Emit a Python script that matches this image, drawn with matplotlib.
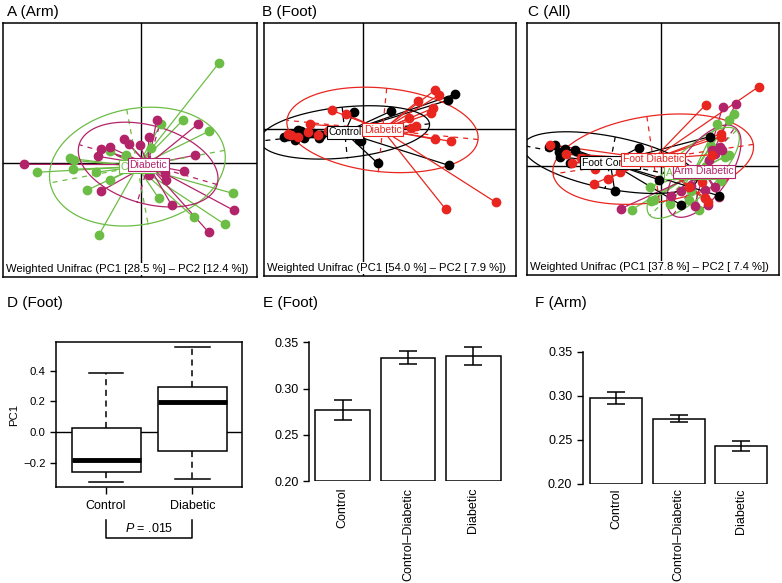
import numpy as np
import matplotlib
matplotlib.use("Agg")
import matplotlib.pyplot as plt

plt.rcParams['font.family'] = ['Liberation Sans', 'DejaVu Sans']
plt.rcParams['mathtext.fontset'] = 'custom'
plt.rcParams['mathtext.rm'] = 'Liberation Sans'
plt.rcParams['mathtext.it'] = 'Liberation Sans:italic'

GREEN = '#6cbd45'
MAGENTA = '#b2236a'
RED = '#e8261f'
BLACK = '#000000'

# ---- PCoA scores (PC1, PC2) ----
# A (Arm)
a_ctrl_x = [0.78, 0.42, 0.68, 0.20, -0.71, -0.67, -1.04, -0.68, -0.45, -0.31, -0.54, -0.42, 0.18, 0.92, 0.53, 0.84, -0.31, 0.10, -0.15]
a_ctrl_y = [1.00, 0.43, 0.32, 0.39, 0.05, 0.03, -0.09, -0.06, -0.09, -0.17, -0.27, -0.72, -0.35, -0.30, -0.54, -0.61, 0.12, 0.15, 0.08]
a_diab_x = [0.16, 0.57, -0.17, -0.12, -0.01, 0.08, -0.40, -0.31, -0.43, -1.17, 0.54, 0.43, 0.24, 0.25, 0.08, -0.40, 0.31, 0.93, 0.68, 0.23]
a_diab_y = [0.43, 0.39, 0.24, 0.19, 0.18, 0.26, 0.14, 0.16, 0.07, -0.01, 0.08, -0.08, -0.10, -0.17, -0.12, -0.28, -0.42, -0.47, -0.69, -0.06]

# B (Foot)
b_ctrl_x = [0.92, 0.85, 0.28, -0.09, -0.04, -0.02, 0.15, 0.86, -0.79, -0.75, -0.68, -0.59, -0.44, -0.65, -0.50, -0.42, -0.62, -0.70]
b_ctrl_y = [0.35, 0.29, 0.18, 0.17, -0.11, -0.12, -0.34, -0.36, -0.08, -0.07, -0.11, -0.09, -0.09, -0.01, -0.04, -0.06, -0.02, -0.05]
b_diab_x = [0.72, 0.76, 0.55, 0.70, 0.68, 0.46, 0.53, 0.48, 0.72, 0.88, 0.83, 1.33, -0.31, -0.17, -0.53, -0.72, -0.75, -0.65, -0.55, -0.45, -0.35]
b_diab_y = [0.39, 0.34, 0.28, 0.21, 0.16, 0.11, 0.03, 0.01, -0.10, -0.12, -0.80, -0.73, 0.19, 0.15, 0.05, -0.06, -0.05, -0.08, -0.03, -0.06, -0.02]

# C (All)
c_actrl_x = [0.73, 0.68, 0.56, 0.64, 0.68, 0.13, -0.11, -0.07, 0.09, 0.28, 0.38, -0.29, -0.10, 0.50, 0.45, 0.30, 0.60, 0.40]
c_actrl_y = [0.52, 0.46, 0.42, 0.09, 0.11, -0.09, -0.21, -0.34, -0.38, -0.34, -0.44, -0.44, -0.35, 0.20, 0.00, -0.25, -0.15, -0.10]
c_adiab_x = [0.75, 0.62, 0.51, 0.56, 0.61, 0.48, 0.54, 0.58, 0.44, 0.47, 0.34, 0.44, -0.40, 0.59, 0.54, 0.30, 0.55, 0.10, 0.20]
c_adiab_y = [0.62, 0.59, 0.16, 0.16, 0.16, 0.06, -0.21, -0.31, -0.32, -0.39, -0.40, -0.24, -0.43, 0.19, 0.12, -0.20, -0.05, -0.30, -0.25]
c_fctrl_x = [-1.12, -1.06, -1.02, -1.01, -0.96, -0.86, -0.91, -0.22, -0.46, 0.20, 0.58, 0.49, -0.02, -0.70]
c_fctrl_y = [0.19, 0.21, 0.14, 0.09, 0.17, 0.16, 0.03, 0.18, -0.25, -0.39, -0.30, 0.29, -0.14, 0.05]
c_fdiab_x = [0.98, 0.45, 0.60, 0.60, -1.11, -0.89, -0.66, -0.67, -0.53, -0.41, 0.44, 0.47, 0.41, 0.51, 0.28, -0.95, -0.80]
c_fdiab_y = [0.79, 0.61, 0.29, 0.32, 0.21, 0.03, -0.03, -0.18, -0.13, -0.06, -0.32, -0.36, -0.16, 0.11, -0.21, 0.12, 0.08]

# ---- D boxplot (PC1, foot) ----
d_groups = ['Control', 'Diabetic']
d_whislo = [-0.323, -0.303]
d_q1 = [-0.256, -0.121]
d_med = [-0.180, 0.199]
d_q3 = [0.030, 0.296]
d_whishi = [0.387, 0.552]

# ---- E / F bars ----
bar_labels = ['Control', 'Control\u2013Diabetic', 'Diabetic']
e_mean = [0.277, 0.3335, 0.3353]
e_err = [0.0104, 0.0072, 0.0099]
f_mean = [0.2975, 0.274, 0.243]
f_err = [0.0065, 0.0042, 0.006]

W, H = 782, 583
fig = plt.figure(figsize=(W / 100, H / 100), dpi=100)


def px_axes(l, t, r, b):
    return fig.add_axes([l / W, 1 - b / H, (r - l) / W, (b - t) / H])


def s_class(ax, groups, xlim, ylim, caption):
    ax.set_xlim(xlim)
    ax.set_ylim(ylim)
    ax.set_xticks([])
    ax.set_yticks([])
    for s in ax.spines.values():
        s.set_linewidth(1.1)
    ax.axhline(0, color='k', lw=1.0, zorder=1)
    ax.axvline(0, color='k', lw=1.0, zorder=1)
    t = np.linspace(0, 2 * np.pi, 300)
    cents = []
    # stars
    for name, x, y, col in groups:
        x = np.asarray(x)
        y = np.asarray(y)
        mx, my = x.mean(), y.mean()
        cents.append((mx, my))
        for xi, yi in zip(x, y):
            ax.plot([mx, xi], [my, yi], color=col, lw=0.9, zorder=2)
    # ellipses (1.5 sd) with dashed axes
    for (name, x, y, col), (mx, my) in zip(groups, cents):
        cov = np.cov(x, y, bias=True)
        vals, vecs = np.linalg.eigh(cov)
        r = 1.5 * np.sqrt(vals)
        ell = np.array([[mx], [my]]) + vecs @ np.vstack([r[0] * np.cos(t), r[1] * np.sin(t)])
        ax.plot(ell[0], ell[1], color=col, lw=0.9, zorder=3)
        for k in range(2):
            a = r[k] * vecs[:, k]
            ax.plot([mx - a[0], mx + a[0]], [my - a[1], my + a[1]], color=col,
                    lw=0.9, ls=(0, (4, 4)), zorder=3)
    for name, x, y, col in groups:
        ax.plot(x, y, 'o', color=col, ms=6, mec=col, zorder=4)
    for (name, x, y, col), (mx, my) in zip(groups, cents):
        ax.text(mx, my, name, color=col, fontsize=7.5, ha='center', va='center', zorder=5,
                bbox=dict(boxstyle='square,pad=0.15', fc='white', ec=col, lw=0.8))
    ax.text(0.012, 0.012, caption, transform=ax.transAxes, ha='left', va='bottom',
            fontsize=8.1, zorder=6, bbox=dict(fc='white', ec='none', pad=1.0))


axA = px_axes(3, 23, 257, 277)
s_class(axA, [('Control', a_ctrl_x, a_ctrl_y, GREEN), ('Diabetic', a_diab_x, a_diab_y, MAGENTA)],
        (-1.377, 1.163), (-1.137, 1.403),
        'Weighted Unifrac (PC1 [28.5 %] \u2013 PC2 [12.4 %])')

axB = px_axes(264, 23.3, 516, 276)
s_class(axB, [('Control', b_ctrl_x, b_ctrl_y, BLACK), ('Diabetic', b_diab_x, b_diab_y, RED)],
        (-0.987, 1.533), (-1.467, 1.06),
        'Weighted Unifrac (PC1 [54.0 %] \u2013 PC2 [ 7.9 %])')

axC = px_axes(527.3, 23.3, 779, 275.3)
s_class(axC, [('Arm Control', c_actrl_x, c_actrl_y, GREEN),
              ('Arm Diabetic', c_adiab_x, c_adiab_y, MAGENTA),
              ('Foot Control', c_fctrl_x, c_fctrl_y, BLACK),
              ('Foot Diabetic', c_fdiab_x, c_fdiab_y, RED)],
        (-1.334, 1.183), (-1.096, 1.424),
        'Weighted Unifrac (PC1 [37.8 %] \u2013 PC2 [ 7.4 %])')

# ---- D ----
axD = px_axes(56, 342.3, 242.3, 487.3)
stats = [dict(label=g, whislo=wl, q1=a, med=m, q3=b, whishi=wh)
         for g, wl, a, m, b, wh in zip(d_groups, d_whislo, d_q1, d_med, d_q3, d_whishi)]
axD.axhline(0, color='k', lw=1.0, zorder=0)
axD.bxp(stats, positions=[1, 2], widths=0.8, capwidths=0.4, showfliers=False, patch_artist=True,
        boxprops=dict(facecolor='white', edgecolor='k', lw=1.1),
        whiskerprops=dict(color='k', lw=1.1, ls=(0, (4, 3))),
        capprops=dict(color='k', lw=1.1),
        medianprops=dict(color='k', lw=3.5, solid_capstyle='butt'))
axD.set_xlim(0.42, 2.58)
axD.set_ylim(-0.357, 0.584)
axD.set_yticks([-0.2, 0.0, 0.2, 0.4])
axD.set_yticklabels(['\u22120.2', '0.0', '0.2', '0.4'])
axD.set_xticks([1, 2])
axD.set_xticklabels(d_groups)
axD.tick_params(axis='y', direction='out', length=4, width=1, labelsize=8.2)
axD.tick_params(axis='x', direction='out', length=5, width=1, pad=4, labelsize=9)
for s in axD.spines.values():
    s.set_linewidth(1.1)
axD.set_ylabel('PC1', fontsize=8.2, labelpad=3)
axD.plot([1, 1, 2, 2], [-0.569, -0.686, -0.686, -0.569], color='k', lw=1.1, clip_on=False)
axD.text(1.5, -0.627, r'$P$ = .015', ha='center', va='center', fontsize=9)


def bar_panel(ax, means, errs, xlim, ylim, pad):
    pos = [0.7, 1.9, 3.1]
    ax.bar(pos, [m - 0.2 for m in means], bottom=0.2, width=1.0, color='white',
           edgecolor='k', lw=1.1)
    ax.errorbar(pos, means, yerr=errs, fmt='none', ecolor='k', elinewidth=1.1,
                capsize=6.5, capthick=1.1)
    ax.set_xlim(xlim)
    ax.set_ylim(ylim)
    for k in ['top', 'right', 'bottom']:
        ax.spines[k].set_visible(False)
    ax.spines['left'].set_linewidth(1.1)
    ax.spines['left'].set_bounds(0.2, 0.35)
    ax.set_yticks([0.20, 0.25, 0.30, 0.35])
    ax.set_yticklabels(['0.20', '0.25', '0.30', '0.35'])
    ax.set_xticks(pos)
    ax.set_xticklabels(bar_labels, rotation=90)
    ax.tick_params(axis='y', direction='out', length=4, width=1, labelsize=9)
    ax.tick_params(axis='x', length=0, pad=pad, labelsize=9)


axE = px_axes(309, 342.3, 517, 481.3)
bar_panel(axE, e_mean, e_err, (0.085, 3.9), (0.2, 0.35), 4.5)

axF = px_axes(582.7, 351.7, 780, 484)
bar_panel(axF, f_mean, f_err, (0.062, 3.84), (0.2, 0.35), 3.0)

# panel titles
for x, y, s in [(7, 12, 'A (Arm)'), (262, 12, 'B (Foot)'), (528, 12, 'C (All)'),
                (7, 303, 'D (Foot)'), (263, 303, 'E (Foot)'), (535, 303, 'F (Arm)')]:
    fig.text(x / W, 1 - y / H, s, fontsize=11, ha='left', va='center')

fig.savefig('out.png', dpi=100)
